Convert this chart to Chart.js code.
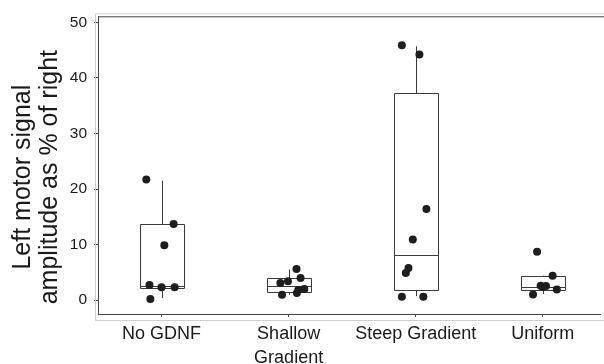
<!DOCTYPE html>
<html>
<head>
<meta charset="utf-8">
<script src="https://cdn.jsdelivr.net/npm/chart.js@4/dist/chart.umd.min.js"></script>
<style>
  html, body { margin: 0; padding: 0; background: #fff; overflow: hidden; }
  #wrap { width: 604px; height: 364px; }
</style>
</head>
<body>
<div id="wrap"><canvas id="c" width="604" height="364"></canvas></div>
<script>
// ---- data ----
const categories = [['No GDNF'], ['Shallow', 'Gradient'], ['Steep Gradient'], ['Uniform']];
const yTicks = [0, 10, 20, 30, 40, 50];

// box plot statistics per category
const whiskerLow  = [0.4, 0.95, 0.7, 1.1];
const q1          = [2.2, 1.43, 1.8, 1.9];
const median      = [2.6, 2.5, 8.2, 2.3];
const q3          = [13.7, 3.9, 37.3, 4.36];
const whiskerHigh = [21.5, 5.5, 45.7, 4.4];

// individual observations (value) and their horizontal jitter (in category units)
const noGdnfValues   = [21.7, 13.7, 9.9, 2.7, 2.3, 2.3, 0.2];
const noGdnfJitter   = [-0.12, 0.095, 0.022, -0.095, 0.0, 0.103, -0.088];
const shallowValues  = [5.6, 4.0, 3.4, 3.1, 0.95, 1.3, 1.8, 2.0];
const shallowJitter  = [0.062, 0.094, -0.005, -0.065, -0.052, 0.065, 0.076, 0.123];
const steepValues    = [45.9, 44.2, 16.4, 10.9, 5.8, 4.9, 0.6, 0.6];
const steepJitter    = [-0.109, 0.029, 0.084, -0.023, -0.057, -0.078, -0.109, 0.06];
const uniformValues  = [8.7, 4.4, 2.6, 2.55, 2.35, 1.9, 1.0];
const uniformJitter  = [-0.045, 0.077, -0.017, 0.025, 0.0, 0.11, -0.077];

const groupValues = [noGdnfValues, shallowValues, steepValues, uniformValues];
const groupJitter = [noGdnfJitter, shallowJitter, steepJitter, uniformJitter];

// ---- build points ----
const points = [];
groupValues.forEach((vals, i) => {
  vals.forEach((v, k) => points.push({ x: i + groupJitter[i][k], y: v }));
});

// ---- styles ----
const AXIS_COLOR = '#444444';
const FRAME_LIGHT = '#cfcfcf';
const BOX_COLOR = '#3a3a3a';
const BOX_HALF_WIDTH = 22; // px
const TITLE_SHIFT = 12;    // px, title centre sits slightly below plot centre

const boxPlugin = {
  id: 'boxes',
  beforeDatasetsDraw(chart) {
    const { ctx, scales: { x, y } } = chart;
    ctx.save();
    ctx.strokeStyle = BOX_COLOR;
    ctx.lineWidth = 1;
    categories.forEach((c, i) => {
      const cx = Math.round(x.getPixelForValue(i)) + 0.5;
      const yq1 = Math.round(y.getPixelForValue(q1[i])) + 0.5;
      const yq3 = Math.round(y.getPixelForValue(q3[i])) + 0.5;
      const ym = Math.round(y.getPixelForValue(median[i])) + 0.5;
      const ylo = y.getPixelForValue(whiskerLow[i]);
      const yhi = y.getPixelForValue(whiskerHigh[i]);
      ctx.beginPath();
      ctx.rect(cx - BOX_HALF_WIDTH, yq3, BOX_HALF_WIDTH * 2, yq1 - yq3);
      ctx.moveTo(cx - BOX_HALF_WIDTH, ym); ctx.lineTo(cx + BOX_HALF_WIDTH, ym);
      ctx.moveTo(cx, yq3); ctx.lineTo(cx, yhi);
      ctx.moveTo(cx, yq1); ctx.lineTo(cx, ylo);
      ctx.stroke();
    });
    ctx.restore();
  }
};

const framePlugin = {
  id: 'frame',
  afterDraw(chart) {
    const { ctx, chartArea: a } = chart;
    ctx.save();
    ctx.lineWidth = 1;
    ctx.strokeStyle = FRAME_LIGHT;
    ctx.beginPath();
    ctx.moveTo(a.right + 10, a.top - 2.5);
    ctx.lineTo(a.left - 2.5, a.top - 2.5);
    ctx.lineTo(a.left - 2.5, a.bottom + 6.5);
    ctx.lineTo(a.right + 10, a.bottom + 6.5);
    ctx.stroke();
    ctx.strokeStyle = AXIS_COLOR;
    ctx.beginPath();
    ctx.moveTo(a.left, a.top + 0.5);
    ctx.lineTo(a.right + 10, a.top + 0.5);
    ctx.stroke();
    ctx.restore();
  }
};

new Chart(document.getElementById('c'), {
  type: 'scatter',
  data: {
    datasets: [{
      data: points,
      backgroundColor: '#1e1e1e',
      borderColor: '#1e1e1e',
      pointRadius: 4,
      pointHoverRadius: 4,
      borderWidth: 0
    }]
  },
  plugins: [boxPlugin, framePlugin],
  options: {
    responsive: false,
    animation: false,
    devicePixelRatio: 1,
    layout: { padding: { top: 15, left: 0, right: 0, bottom: 0 } },
    plugins: { legend: { display: false }, tooltip: { enabled: false } },
    scales: {
      x: {
        type: 'linear',
        min: -0.5,
        max: 3.45,
        afterFit(scale) { scale.height = 50; },
        afterBuildTicks(scale) { scale.ticks = categories.map((c, i) => ({ value: i })); },
        grid: { drawOnChartArea: false, drawTicks: true, tickLength: 3, color: AXIS_COLOR },
        border: { display: true, color: AXIS_COLOR, width: 1 },
        ticks: {
          color: '#1a1a1a',
          padding: 6,
          maxRotation: 0,
          autoSkip: false,
          font: { family: 'Liberation Sans, Arial, sans-serif', size: 18, lineHeight: 1.28 },
          callback: (v) => categories[v]
        }
      },
      y: {
        type: 'linear',
        min: -2.5,
        max: 51.1,
        afterFit(scale) { scale.width = 98; },
        afterUpdate(scale) {
          if (!scale._titlePatched) {
            const orig = scale.drawTitle;
            scale.drawTitle = function () {
              const t = this.top, b = this.bottom;
              this.top = t + TITLE_SHIFT; this.bottom = b + TITLE_SHIFT;
              orig.call(this);
              this.top = t; this.bottom = b;
            };
            scale._titlePatched = true;
          }
        },
        afterBuildTicks(scale) { scale.ticks = yTicks.map(v => ({ value: v })); },
        grid: { drawOnChartArea: false, drawTicks: true, tickLength: 4, color: AXIS_COLOR },
        border: { display: true, color: AXIS_COLOR, width: 1 },
        ticks: {
          color: '#1a1a1a',
          padding: 7,
          font: { family: 'Liberation Sans, Arial, sans-serif', size: 15.5 }
        },
        title: {
          display: true,
          text: ['Left motor signal', 'amplitude as % of right'],
          color: '#1a1a1a',
          padding: { top: 10, bottom: 0 },
          font: { family: 'Liberation Sans, Arial, sans-serif', size: 25, lineHeight: 1.08 }
        }
      }
    }
  }
});
</script>
</body>
</html>
